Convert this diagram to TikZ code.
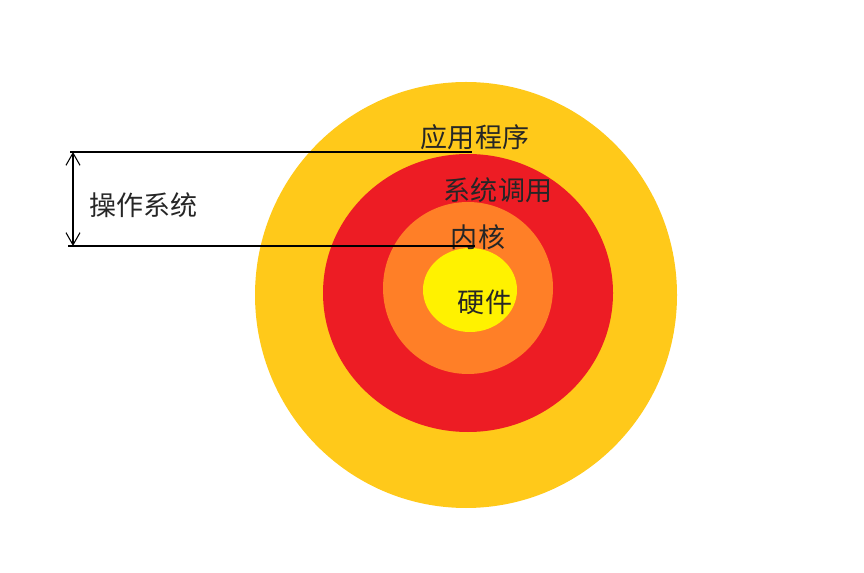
\documentclass[tikz,border=0pt]{standalone}
\usepackage{fontspec}
\setmainfont{Noto Sans CJK SC}
\usetikzlibrary{arrows.meta}
\definecolor{ringgold}{HTML}{FFC91A}
\definecolor{ringred}{HTML}{ED1C24}
\definecolor{ringorange}{HTML}{FF7F27}
\definecolor{ringyellow}{HTML}{FFF200}
\tikzset{
  ringlabel/.style={inner sep=0pt,text=black!85},
  levelline/.style={line width=1.1pt,black}
}
\begin{document}
\begin{tikzpicture}[x=0.02cm,y=-0.02cm,font=\fontsize{15.4}{17}\selectfont]
\useasboundingbox (0,0) rectangle (864,573);
% rings, outside in
\fill[ringgold] (466,295) ellipse[x radius=211,y radius=213];
\fill[ringred] (468,293) ellipse[x radius=145,y radius=139];
\fill[ringorange] (468,288) ellipse[x radius=85,y radius=86];
\fill[ringyellow] (470,290) ellipse[x radius=47,y radius=42];
\node[ringlabel] (app) at (475,137) {应用程序};
\node[ringlabel] (sys) at (498,190) {系统调用};
\node[ringlabel] (kern) at (478,237) {内核};
\node[ringlabel] (hw) at (485,302) {硬件};
% operating system span
\coordinate (top) at (70,152);
\coordinate (bot) at (68,246);
\draw[levelline] (top) -- (472,152);
\draw[levelline] (bot) -- (475,246);
\draw[{Straight Barb[length=7pt,width=8pt]}-{Straight Barb[length=7pt,width=8pt]},line width=0.6pt]
  (73,152) -- (73,246);
\node[ringlabel,anchor=west] (os) at (89,205) {操作系统};
\end{tikzpicture}
\end{document}
